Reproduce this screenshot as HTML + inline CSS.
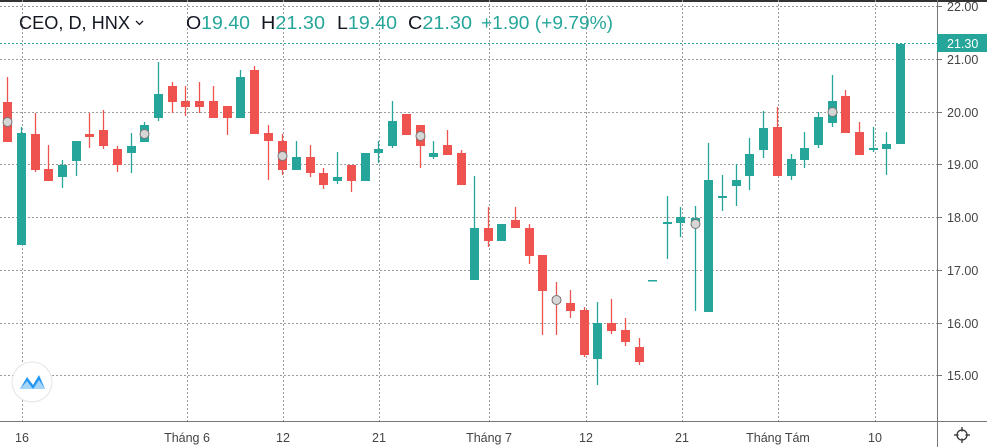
<!DOCTYPE html>
<html><head><meta charset="utf-8"><style>
html,body{margin:0;padding:0;background:#fff;}
svg{display:block;font-family:"Liberation Sans",sans-serif;}
</style></head><body>
<svg width="987" height="447" viewBox="0 0 987 447" xmlns="http://www.w3.org/2000/svg">
<rect width="987" height="447" fill="#fff"/>
<rect width="987" height="2" fill="#333"/>
<g stroke="#9a9a9a" stroke-width="1" stroke-dasharray="2,2">
<line x1="0" y1="6.5" x2="937" y2="6.5"/>
<line x1="0" y1="59.5" x2="937" y2="59.5"/>
<line x1="0" y1="112.5" x2="937" y2="112.5"/>
<line x1="0" y1="164.5" x2="937" y2="164.5"/>
<line x1="0" y1="217.5" x2="937" y2="217.5"/>
<line x1="0" y1="270.5" x2="937" y2="270.5"/>
<line x1="0" y1="323.5" x2="937" y2="323.5"/>
<line x1="0" y1="375.5" x2="937" y2="375.5"/>
<line x1="22.5" y1="0" x2="22.5" y2="421"/>
<line x1="187.5" y1="0" x2="187.5" y2="421"/>
<line x1="283.5" y1="0" x2="283.5" y2="421"/>
<line x1="379.5" y1="0" x2="379.5" y2="421"/>
<line x1="489.5" y1="0" x2="489.5" y2="421"/>
<line x1="586.5" y1="0" x2="586.5" y2="421"/>
<line x1="682.5" y1="0" x2="682.5" y2="421"/>
<line x1="778.5" y1="0" x2="778.5" y2="421"/>
<line x1="875.5" y1="0" x2="875.5" y2="421"/>
</g>
<line x1="0" y1="43.5" x2="937" y2="43.5" stroke="#26a69a" stroke-width="1" stroke-dasharray="2,2"/>
<g id="c"></g>
<line x1="0" y1="421.5" x2="987" y2="421.5" stroke="#777"/>
<line x1="937.5" y1="0" x2="937.5" y2="447" stroke="#777"/>
<g font-size="12.5" fill="#444">
<g stroke="#777"><line x1="937" y1="6.5" x2="942" y2="6.5"/><line x1="937" y1="59.5" x2="942" y2="59.5"/><line x1="937" y1="112.5" x2="942" y2="112.5"/><line x1="937" y1="164.5" x2="942" y2="164.5"/><line x1="937" y1="217.5" x2="942" y2="217.5"/><line x1="937" y1="270.5" x2="942" y2="270.5"/><line x1="937" y1="323.5" x2="942" y2="323.5"/><line x1="937" y1="375.5" x2="942" y2="375.5"/></g>
<text x="947" y="11">22.00</text>
<text x="947" y="64">21.00</text>
<text x="947" y="117">20.00</text>
<text x="947" y="169">19.00</text>
<text x="947" y="222">18.00</text>
<text x="947" y="275">17.00</text>
<text x="947" y="328">16.00</text>
<text x="947" y="380">15.00</text>
</g>
<rect x="937" y="34" width="50" height="18" fill="#26a69a"/>
<text x="947" y="48" font-size="12.5" fill="#fff">21.30</text>
<g font-size="12.5" fill="#444" text-anchor="middle">
<text x="22" y="442">16</text>
<text x="187" y="442">Tháng 6</text>
<text x="283" y="442">12</text>
<text x="379" y="442">21</text>
<text x="489" y="442">Tháng 7</text>
<text x="586" y="442">12</text>
<text x="682" y="442">21</text>
<text x="778" y="442">Tháng Tám</text>
<text x="875" y="442">10</text>
</g>
<g stroke="#333" fill="none" stroke-width="1.3"><circle cx="962" cy="435" r="5"/><line x1="962" y1="427" x2="962" y2="443"/><line x1="954" y1="435" x2="970" y2="435"/></g>
<circle cx="962" cy="435" r="3.5" fill="#fff"/>
<circle cx="32" cy="382" r="20" fill="#fff" stroke="#e4e4e4"/>
<path d="M20 389 L27 377 L33 385 L39 375 L45 389 Z" fill="#2196f3"/>
<path d="M20 389 L27 381 L33 389 L39 380 L45 389 Z" fill="#fff" opacity="0.6"/>
<g font-size="18" fill="#131722">
<text x="19" y="29" textLength="111" lengthAdjust="spacingAndGlyphs">CEO, D, HNX</text>
<path d="M136 21 L139.5 24.5 L143 21" stroke="#131722" fill="none" stroke-width="1.3"/>
<text x="186" y="29" textLength="64" lengthAdjust="spacingAndGlyphs">O<tspan fill="#26a69a">19.40</tspan></text>
<text x="261" y="29" textLength="64" lengthAdjust="spacingAndGlyphs">H<tspan fill="#26a69a">21.30</tspan></text>
<text x="337" y="29" textLength="60" lengthAdjust="spacingAndGlyphs">L<tspan fill="#26a69a">19.40</tspan></text>
<text x="408" y="29" textLength="64" lengthAdjust="spacingAndGlyphs">C<tspan fill="#26a69a">21.30</tspan></text>
<text x="481" y="29" textLength="132" lengthAdjust="spacingAndGlyphs" fill="#26a69a">+1.90 (+9.79%)</text>
</g>
</svg>
<script>
var d=[
[7,'r',102,142,77,142],[21,'g',133,245,127,245],[35,'r',134,170,113,172],[48,'r',169,181,145,181],[62,'g',165,177,160,188],
[76,'g',141,161,141,176],[89,'r',134,137,113,148],[103,'r',130,146,110,149],[117,'r',149,165,146,172],[131,'g',146,153,133,173],
[144,'g',125,142,122,142],[158,'g',94,118,62,121],[172,'r',86,102,82,113],[185,'r',101,107,86,116],[199,'r',101,107,82,113],
[213,'r',101,118,86,118],[227,'r',106,118,106,135],[240,'g',77,118,70,118],[254,'r',70,134,66,134],[268,'r',133,141,125,180],
[282,'r',141,170,134,175],[296,'g',157,170,141,170],[310,'r',157,173,145,177],[323,'r',173,185,168,189],[337,'g',177,181,152,184],
[351,'r',165,181,165,192],[365,'g',153,181,153,181],[378,'g',149,153,141,163],[392,'g',121,146,101,148],[406,'r',114,135,114,135],
[420,'r',125,146,125,168],[433,'g',153,157,141,159],[447,'r',145,155,130,155],[461,'r',153,185,150,185],[474,'g',228,280,176,280],
[488,'r',228,241,207,247],[501,'g',224,241,224,241],[515,'r',220,228,207,228],[529,'r',228,256,224,264],[542,'r',255,291,255,335],
[556,'r',297,303,282,335],[570,'r',303,311,290,318],[584,'r',310,355,307,357],[597,'g',323,359,302,385],[611,'r',323,331,299,334],
[625,'r',330,342,318,346],[639,'r',347,362,338,365],[652,'g',280,281,280,281],[667,'g',222,224,196,259],[680,'g',217,223,207,237],
[695,'g',218,224,206,311],[708,'g',180,312,143,312],[722,'g',196,198,175,211],[736,'g',180,186,164,206],[749,'g',154,176,138,190],
[763,'g',128,150,111,158],[777,'r',127,176,107,176],[791,'g',159,176,154,180],[804,'g',148,160,132,168],[818,'g',117,145,112,148],
[832,'g',101,123,75,127],[845,'r',96,133,90,133],[859,'r',132,155,122,155],[873,'g',148,150,127,152],[886,'g',144,149,132,175],
[900,'g',44,144,44,144]];
var s='';
d.forEach(function(c){var col=c[1]=='g'?'#26a69a':'#ef5350';
s+='<line x1="'+(c[0]+0.5)+'" y1="'+c[4]+'" x2="'+(c[0]+0.5)+'" y2="'+c[5]+'" stroke="'+col+'" stroke-width="1.3"/>';
var h=Math.max(c[3]-c[2],1.5);
s+='<rect x="'+(c[0]-4)+'" y="'+c[2]+'" width="9" height="'+h+'" fill="'+col+'"/>';});
[[7,122],[144,134],[282,156],[420,136],[556,300],[695,224],[832,112]].forEach(function(p){
s+='<circle cx="'+(p[0]+0.5)+'" cy="'+p[1]+'" r="4.5" fill="#d6d6d6" stroke="#777" stroke-width="1"/>';});
document.getElementById('c').innerHTML=s;
</script>
</body></html>
